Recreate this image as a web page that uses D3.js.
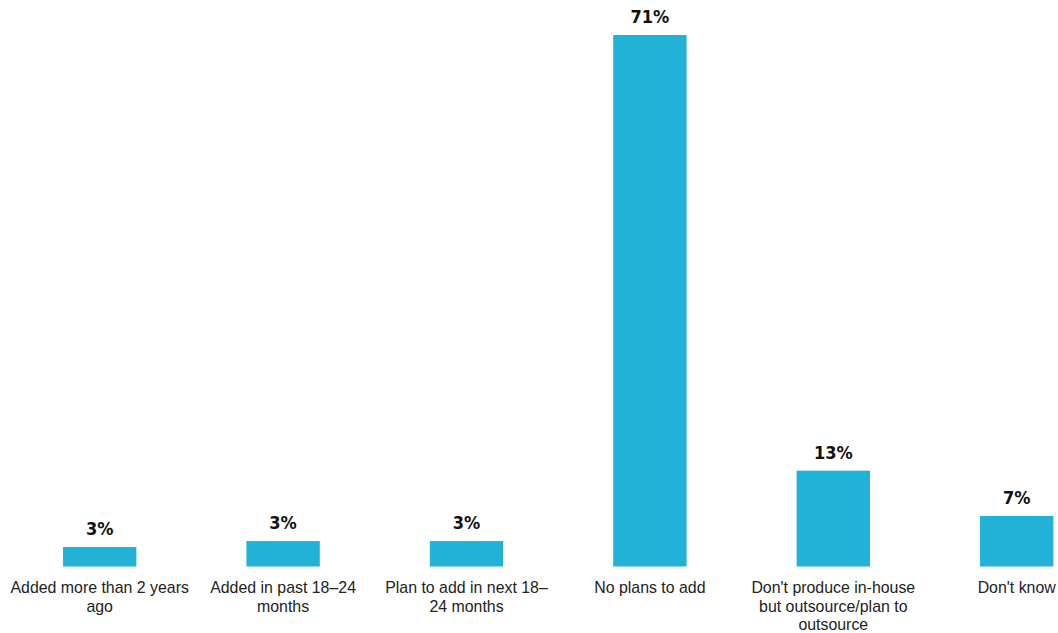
<!DOCTYPE html>
<html>
<head>
<meta charset="utf-8">
<script src="https://cdn.jsdelivr.net/npm/d3@7"></script>
<style>
  body { margin: 0; background: #fff; }
</style>
</head>
<body>
<div id="chart"></div>
<script>
const categories = [
  "Added more than 2 years\nago",
  "Added in past 18–24\nmonths",
  "Plan to add in next 18–\n24 months",
  "No plans to add",
  "Don't produce in-house\nbut outsource/plan to\noutsource",
  "Don't know"
]
const values = [2.6, 3.4, 3.4, 71, 12.8, 6.75]
const valueLabels = ["3%", "3%", "3%", "71%", "13%", "7%"]

const width = 1058
const height = 633
const baseline = 566.5

const data = categories.map((c, i) => ({ name: c, value: values[i], label: valueLabels[i] }))

const x = d3.scaleBand()
    .domain(categories)
    .range([8, 8 + 6 * 183.4])
    .paddingInner(0.6)
    .paddingOuter(0.3)

const y = d3.scaleLinear()
    .domain([0, 71])
    .range([baseline, 35])

const svg = d3.select("#chart")
    .append("svg")
    .attr("width", width)
    .attr("height", height)

svg.append("g")
    .attr("fill", "#22b2d8")
    .selectAll("rect")
    .data(data)
    .join("rect")
    .attr("x", d => x(d.name))
    .attr("y", d => y(d.value))
    .attr("width", x.bandwidth())
    .attr("height", d => baseline - y(d.value))

svg.append("g")
    .attr("font-family", "'DejaVu Sans Condensed', 'Liberation Sans Narrow', sans-serif")
    .attr("font-weight", "bold")
    .attr("font-size", 18)
    .attr("fill", "#111")
    .attr("text-anchor", "middle")
    .selectAll("text")
    .data(data)
    .join("text")
    .attr("x", d => x(d.name) + x.bandwidth() / 2)
    .attr("y", d => y(d.value) - 12)
    .text(d => d.label)

// category labels, one tspan per line
svg.append("g")
    .attr("font-family", "'Liberation Sans', Arial, sans-serif")
    .attr("font-size", 15.9)
    .attr("fill", "#222")
    .attr("text-anchor", "middle")
    .selectAll("text")
    .data(data)
    .join("text")
    .attr("y", 593)
    .each(function (d) {
        const t = d3.select(this)
        d.name.split("\n").forEach((line, i) => {
            t.append("tspan")
                .attr("x", x(d.name) + x.bandwidth() / 2)
                .attr("dy", i === 0 ? 0 : 18.5)
                .text(line)
        })
    })
</script>
</body>
</html>
